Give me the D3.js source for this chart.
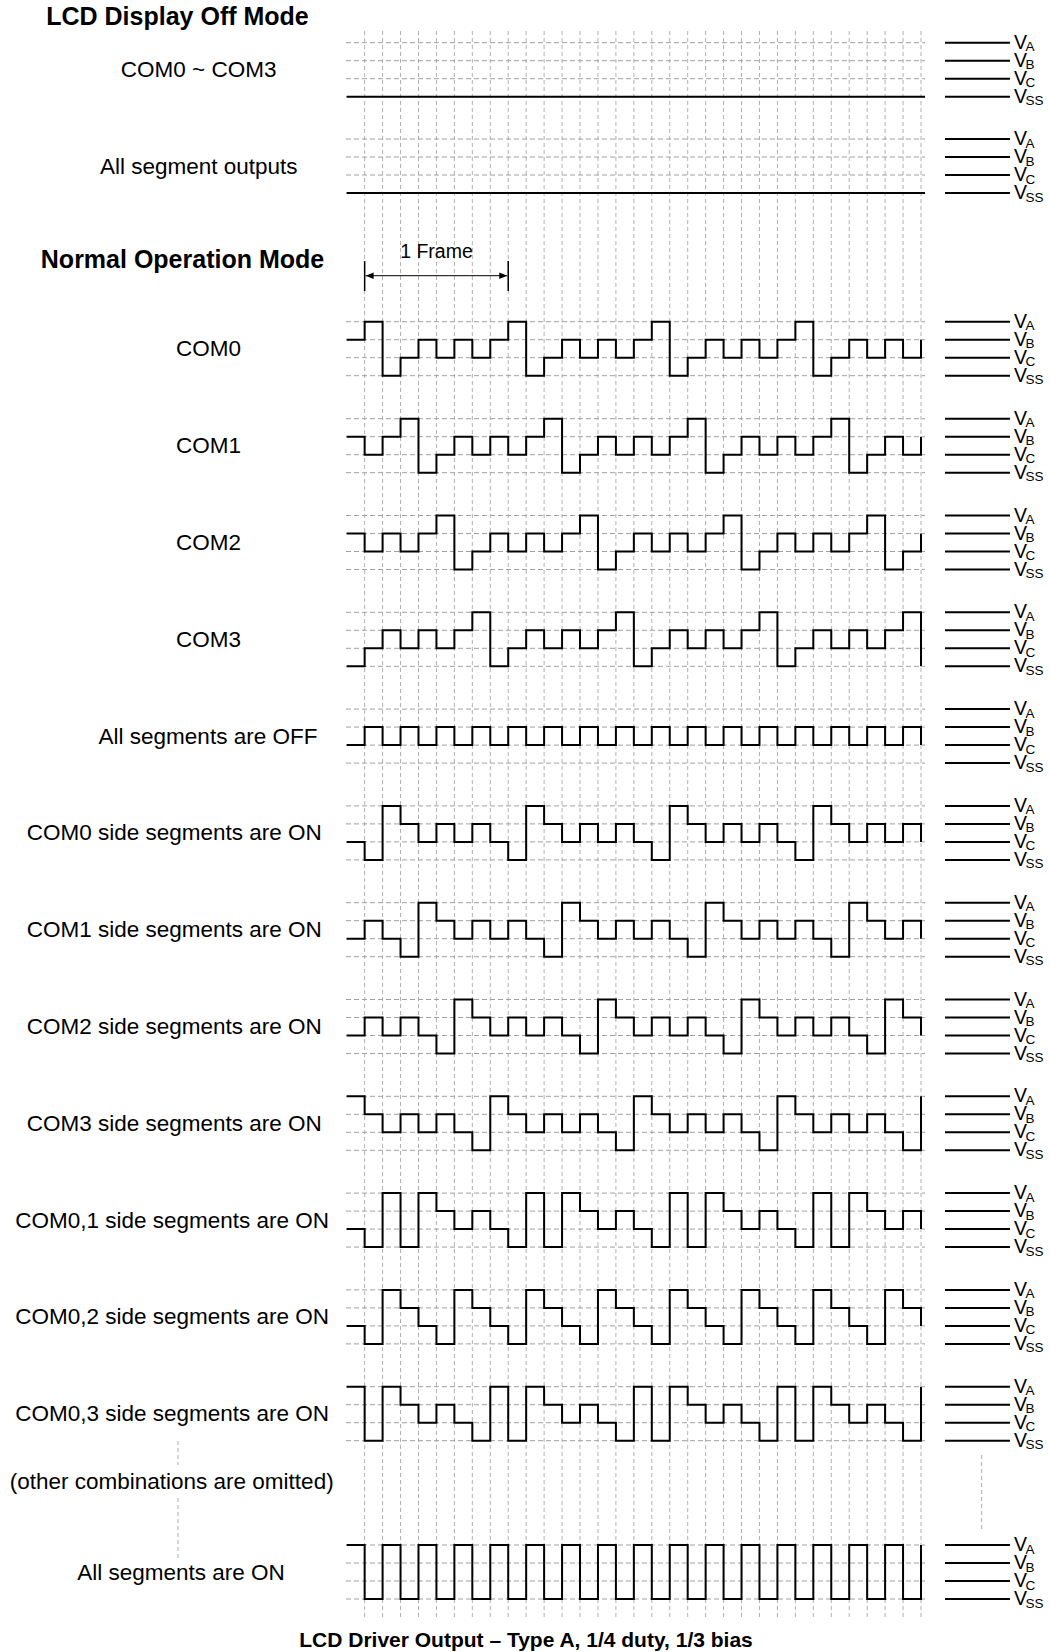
<!DOCTYPE html>
<html>
<head>
<meta charset="utf-8">
<script src="https://cdn.jsdelivr.net/npm/d3@7"></script>
<style>
  body { margin: 0; background: #fff; }
  svg { display: block; font-family: "Liberation Sans", Arial, sans-serif; }
</style>
</head>
<body>
<svg id="drawing_region"></svg>
<script>
// voltage level per time slot (t = 0..32): 3 = VA, 2 = VB, 1 = VC, 0 = VSS
const offCom      = [0, 0,0,0,0,0,0,0,0, 0,0,0,0,0,0,0,0, 0,0,0,0,0,0,0,0, 0,0,0,0,0,0,0,0];
const offSeg      = [0, 0,0,0,0,0,0,0,0, 0,0,0,0,0,0,0,0, 0,0,0,0,0,0,0,0, 0,0,0,0,0,0,0,0];
const com0        = [2, 3,0,1,2,1,2,1,2, 3,0,1,2,1,2,1,2, 3,0,1,2,1,2,1,2, 3,0,1,2,1,2,1,2];
const com1        = [2, 1,2,3,0,1,2,1,2, 1,2,3,0,1,2,1,2, 1,2,3,0,1,2,1,2, 1,2,3,0,1,2,1,2];
const com2        = [2, 1,2,1,2,3,0,1,2, 1,2,1,2,3,0,1,2, 1,2,1,2,3,0,1,2, 1,2,1,2,3,0,1,2];
const com3        = [0, 1,2,1,2,1,2,3,0, 1,2,1,2,1,2,3,0, 1,2,1,2,1,2,3,0, 1,2,1,2,1,2,3,0];
const segAllOff   = [1, 2,1,2,1,2,1,2,1, 2,1,2,1,2,1,2,1, 2,1,2,1,2,1,2,1, 2,1,2,1,2,1,2,1];
const segCom0On   = [1, 0,3,2,1,2,1,2,1, 0,3,2,1,2,1,2,1, 0,3,2,1,2,1,2,1, 0,3,2,1,2,1,2,1];
const segCom1On   = [1, 2,1,0,3,2,1,2,1, 2,1,0,3,2,1,2,1, 2,1,0,3,2,1,2,1, 2,1,0,3,2,1,2,1];
const segCom2On   = [1, 2,1,2,1,0,3,2,1, 2,1,2,1,0,3,2,1, 2,1,2,1,0,3,2,1, 2,1,2,1,0,3,2,1];
const segCom3On   = [3, 2,1,2,1,2,1,0,3, 2,1,2,1,2,1,0,3, 2,1,2,1,2,1,0,3, 2,1,2,1,2,1,0,3];
const segCom01On  = [1, 0,3,0,3,2,1,2,1, 0,3,0,3,2,1,2,1, 0,3,0,3,2,1,2,1, 0,3,0,3,2,1,2,1];
const segCom02On  = [1, 0,3,2,1,0,3,2,1, 0,3,2,1,0,3,2,1, 0,3,2,1,0,3,2,1, 0,3,2,1,0,3,2,1];
const segCom03On  = [3, 0,3,2,1,2,1,0,3, 0,3,2,1,2,1,0,3, 0,3,2,1,2,1,0,3, 0,3,2,1,2,1,0,3];
const segAllOn    = [3, 0,3,0,3,0,3,0,3, 0,3,0,3,0,3,0,3, 0,3,0,3,0,3,0,3, 0,3,0,3,0,3,0,3];

const rowLabels = ["COM0 ~ COM3", "All segment outputs", "COM0", "COM1", "COM2", "COM3",
    "All segments are OFF", "COM0 side segments are ON", "COM1 side segments are ON",
    "COM2 side segments are ON", "COM3 side segments are ON", "COM0,1 side segments are ON",
    "COM0,2 side segments are ON", "COM0,3 side segments are ON", "All segments are ON"];
const rowWaves = [offCom, offSeg, com0, com1, com2, com3, segAllOff, segCom0On, segCom1On,
    segCom2On, segCom3On, segCom01On, segCom02On, segCom03On, segAllOn];
const levelNames = ["SS", "C", "B", "A"];

// layout (top = VA line of each row, lx = label centre)
const rowTop = [42.7, 139, 321.7, 418.7, 515.5, 612.3, 709.1, 805.9, 902.7, 999.5, 1096.3, 1193.1, 1289.9, 1386.7, 1545];
const labelX = [198.7, 198.8, 208.5, 208.5, 208.5, 208.5, 208, 174.3, 174.3, 174.3, 174.3, 172.2, 172.2, 172.2, 181];

const W = 1050, H = 1652, step = 18;

const svg = d3.select('#drawing_region')
    .attr('width', W)
    .attr('height', H);

const x = d3.scaleLinear().domain([0, 32]).range([346.7, 921]);

// arrow heads
const defs = svg.append('defs');
defs.append('marker').attr('id', 'arrow')
    .attr('viewBox', '0 0 10 10').attr('refX', 10).attr('refY', 5)
    .attr('markerWidth', 10).attr('markerHeight', 8).attr('markerUnits', 'userSpaceOnUse')
    .attr('orient', 'auto-start-reverse')
  .append('path').attr('d', 'M0,1 L10,5 L0,9 Z').attr('fill', '#000');

// vertical time grid
svg.append('g').selectAll('line')
    .data(d3.range(1, 33))
    .join('line')
    .attr('x1', d => x(d)).attr('x2', d => x(d))
    .attr('y1', 31).attr('y2', 1617)
    .attr('stroke', '#b0b0b0')
    .attr('stroke-width', 1)
    .attr('stroke-dasharray', '4,3');

const line = d3.line().curve(d3.curveStepAfter);

rowWaves.forEach((wave, i) => {
    const top = rowTop[i];
    const y = d3.scaleLinear().domain([0, 3]).range([top + 3 * step, top]);
    const g = svg.append('g');

    // level grid
    g.selectAll('line.lvl')
        .data([3, 2, 1, 0])
        .join('line')
        .attr('class', 'lvl')
        .attr('x1', 346).attr('x2', 925)
        .attr('y1', d => y(d)).attr('y2', d => y(d))
        .attr('stroke', '#a0a0a0')
        .attr('stroke-width', 1)
        .attr('stroke-dasharray', '5,3');

    // waveform (display-off rows run on to the grid edge)
    const pts = wave.map((v, t) => [x(t), y(v)]);
    if (i < 2) pts.push([925, y(wave[wave.length - 1])]);
    g.append('path')
        .attr('d', line(pts))
        .attr('fill', 'none')
        .attr('stroke', '#000')
        .attr('stroke-width', 2);

    // level legend on the right
    g.selectAll('line.leg')
        .data([3, 2, 1, 0])
        .join('line')
        .attr('class', 'leg')
        .attr('x1', 945).attr('x2', 1010)
        .attr('y1', d => y(d)).attr('y2', d => y(d))
        .attr('stroke', '#000')
        .attr('stroke-width', 2);

    const lt = g.selectAll('text.leg')
        .data([3, 2, 1, 0])
        .join('text')
        .attr('class', 'leg')
        .attr('x', 1014)
        .attr('y', d => y(d) + 6)
        .style('font-size', '19.5px');
    lt.append('tspan').text('V');
    lt.append('tspan')
        .attr('dx', -1.5).attr('dy', 2.5)
        .style('font-size', '13.5px')
        .text(d => levelNames[d]);

    // row label
    g.append('text')
        .attr('x', labelX[i])
        .attr('y', top + 1.5 * step + 7.5)
        .attr('text-anchor', 'middle')
        .style('font-size', '22.5px')
        .text(rowLabels[i]);
});

// headings
svg.append('text').attr('x', 177.5).attr('y', 25)
    .attr('text-anchor', 'middle').style('font-size', '25px').style('font-weight', 'bold')
    .text('LCD Display Off Mode');
svg.append('text').attr('x', 182.5).attr('y', 268)
    .attr('text-anchor', 'middle').style('font-size', '25px').style('font-weight', 'bold')
    .text('Normal Operation Mode');

// 1 frame marker
const f0 = x(1), f1 = x(9);
const fr = svg.append('g');
fr.selectAll('line.bar')
    .data([f0, f1])
    .join('line')
    .attr('x1', d => d).attr('x2', d => d)
    .attr('y1', 261).attr('y2', 291)
    .attr('stroke', '#000').attr('stroke-width', 1.5);
fr.append('line')
    .attr('x1', f0 + 1).attr('x2', f1 - 1)
    .attr('y1', 275.7).attr('y2', 275.7)
    .attr('stroke', '#000').attr('stroke-width', 1)
    .attr('marker-start', 'url(#arrow)')
    .attr('marker-end', 'url(#arrow)');
fr.append('text')
    .attr('x', (f0 + f1) / 2).attr('y', 258)
    .attr('text-anchor', 'middle').style('font-size', '19.5px')
    .text('1 Frame');

// omitted combinations
svg.append('text').attr('x', 171.7).attr('y', 1489)
    .attr('text-anchor', 'middle').style('font-size', '22.5px')
    .text('(other combinations are omitted)');
svg.append('g').selectAll('line')
    .data([[178, 1441, 1465], [178, 1498, 1558], [981.7, 1455, 1530]])
    .join('line')
    .attr('x1', d => d[0]).attr('x2', d => d[0])
    .attr('y1', d => d[1]).attr('y2', d => d[2])
    .attr('stroke', '#ababab')
    .attr('stroke-dasharray', '4,3');

// caption
svg.append('text').attr('x', 526).attr('y', 1647)
    .attr('text-anchor', 'middle').style('font-size', '21px').style('font-weight', 'bold')
    .text('LCD Driver Output \u2013 Type A, 1/4 duty, 1/3 bias');
</script>
</body>
</html>
